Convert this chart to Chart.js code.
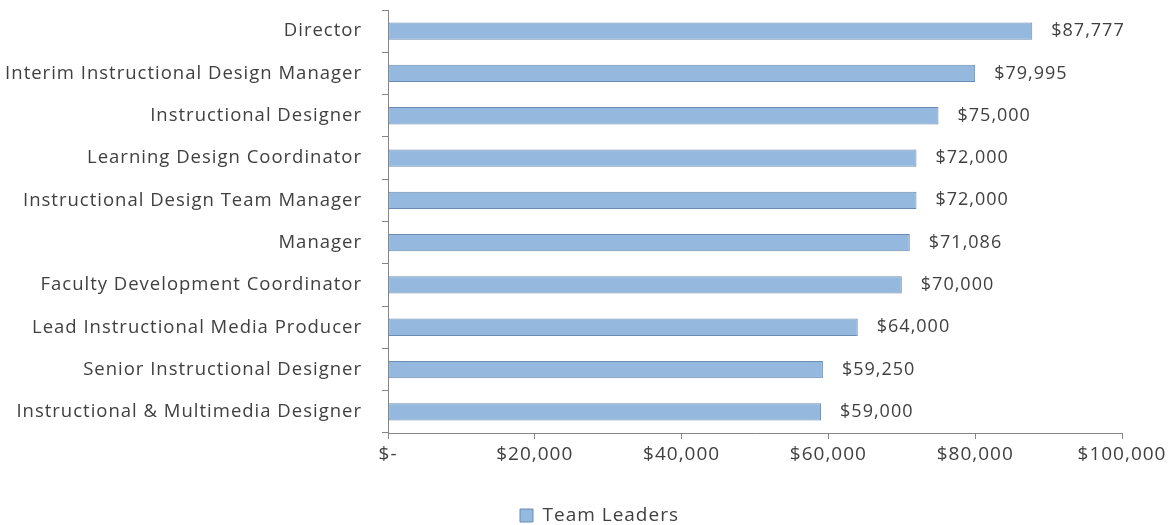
<!DOCTYPE html>
<html>
<head>
<meta charset="utf-8">
<script src="https://cdn.jsdelivr.net/npm/chart.js@4.4.1/dist/chart.umd.min.js"></script>
<style>
  html, body { margin: 0; padding: 0; background: #ffffff; }
  #wrap { width: 1173px; height: 525px; }
</style>
</head>
<body>
<div id="wrap"><canvas id="c"></canvas></div>
<script>
const categories = [
  "Director",
  "Interim Instructional Design Manager",
  "Instructional Designer",
  "Learning Design Coordinator",
  "Instructional Design Team Manager",
  "Manager",
  "Faculty Development Coordinator",
  "Lead Instructional Media Producer",
  "Senior Instructional Designer",
  "Instructional & Multimedia Designer"
];
const teamLeaders = [87777, 79995, 75000, 72000, 72000, 71086, 70000, 64000, 59250, 59000];
const seriesName = "Team Leaders";
const xMax = 100000;
const xStep = 20000;

const FONT = "'Open Sans', sans-serif";
const TEXT = "#404040";
const SPACING = "1px";

function money(v) {
  if (v === 0) return "$-";
  return "$" + v.toLocaleString("en-US");
}

const spacingPlugin = {
  id: "spacing",
  beforeUpdate(chart) { chart.ctx.letterSpacing = SPACING; },
  beforeDraw(chart) { chart.ctx.letterSpacing = SPACING; }
};

const legendShift = {
  id: "legendShift",
  afterLayout(chart) {
    const lg = chart.legend;
    if (lg) { lg.left += 13; lg.right += 13; }
  }
};

const valueLabels = {
  id: "valueLabels",
  afterDatasetsDraw(chart) {
    const ctx = chart.ctx;
    const meta = chart.getDatasetMeta(0);
    ctx.save();
    ctx.letterSpacing = SPACING;
    ctx.font = "18px " + FONT;
    ctx.fillStyle = TEXT;
    ctx.textAlign = "left";
    ctx.textBaseline = "middle";
    meta.data.forEach((el, i) => {
      ctx.fillText(money(chart.data.datasets[0].data[i]), el.x + 19, el.y);
    });
    ctx.restore();
  }
};

new Chart(document.getElementById("c"), {
  type: "bar",
  data: {
    labels: categories,
    datasets: [{
      label: seriesName,
      data: teamLeaders,
      backgroundColor: "#95b8de",
      borderColor: "#6a8cb2",
      borderWidth: 1,
      borderSkipped: false,
      barPercentage: 0.41,
      categoryPercentage: 1.0
    }]
  },
  options: {
    indexAxis: "y",
    responsive: true,
    maintainAspectRatio: false,
    animation: false,
    layout: { padding: { top: 10, right: 0, left: 0, bottom: -10 } },
    scales: {
      y: {
        afterFit(scale) {
          scale.width = 388;
          scale.paddingTop = 0;
          scale.paddingBottom = 0;
        },
        grid: {
          display: true,
          drawOnChartArea: false,
          drawTicks: true,
          tickLength: 6,
          color: "#868686",
          offset: true
        },
        border: { display: true, color: "#868686", width: 1 },
        ticks: {
          color: TEXT,
          font: { family: FONT, size: 18.5 },
          padding: 20,
          autoSkip: false
        }
      },
      x: {
        min: 0,
        max: xMax,
        afterFit(scale) {
          scale.height = 73;
          scale.paddingLeft = 0;
          scale.paddingRight = 51;
        },
        grid: {
          display: true,
          drawOnChartArea: false,
          drawTicks: true,
          tickLength: 6,
          color: "#868686"
        },
        border: { display: true, color: "#868686", width: 1 },
        ticks: {
          stepSize: xStep,
          color: TEXT,
          font: { family: FONT, size: 19 },
          padding: 4,
          maxRotation: 0,
          callback: (v) => money(v)
        }
      }
    },
    plugins: {
      legend: {
        position: "bottom",
        labels: {
          color: TEXT,
          font: { family: FONT, size: 19 },
          boxWidth: 13,
          boxHeight: 13,
          padding: 0
        }
      },
      tooltip: { enabled: false }
    }
  },
  plugins: [spacingPlugin, legendShift, valueLabels]
});
</script>
</body>
</html>
